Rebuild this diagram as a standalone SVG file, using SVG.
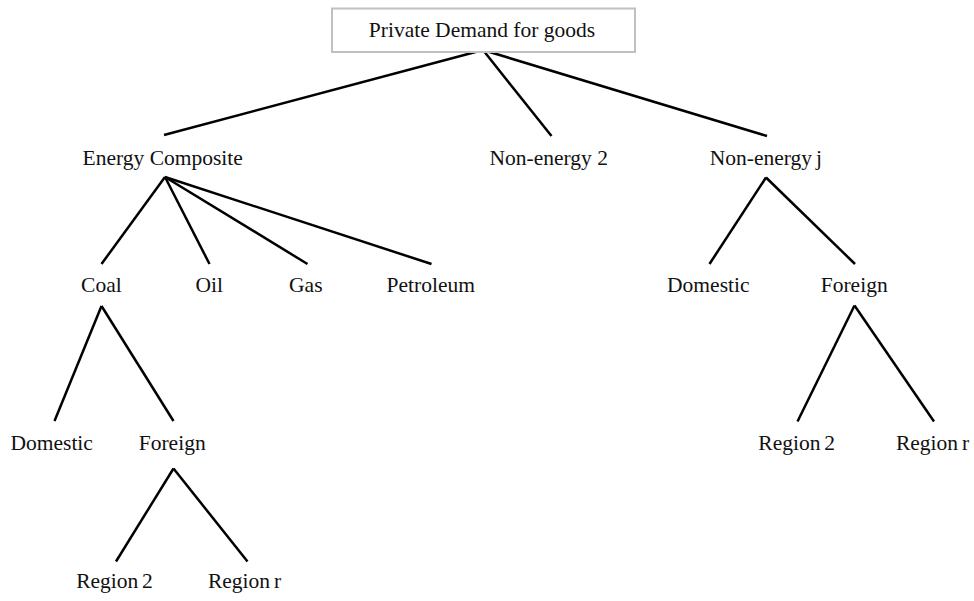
<svg xmlns="http://www.w3.org/2000/svg" width="974" height="601" viewBox="0 0 974 601">
<style>
text{font-family:"Liberation Serif","Times New Roman",serif;font-size:21.5px;fill:#111;text-anchor:middle}
.reg{word-spacing:-1.5px}
#connectors line{stroke:#000;stroke-width:2.5;stroke-linecap:butt}
</style>
<rect width="974" height="601" fill="#fff"/>
<g id="connectors">
<line x1="483" y1="50" x2="164" y2="135"/>
<line x1="483" y1="50" x2="551.5" y2="136"/>
<line x1="483" y1="50" x2="767" y2="136"/>
<line x1="165" y1="177" x2="101.5" y2="264"/>
<line x1="165" y1="177" x2="209.5" y2="264"/>
<line x1="165" y1="177" x2="307.5" y2="264"/>
<line x1="165" y1="177" x2="431.5" y2="264"/>
<line x1="766" y1="177.5" x2="709.5" y2="264"/>
<line x1="766" y1="177.5" x2="855" y2="264"/>
<line x1="101.5" y1="306" x2="54.5" y2="421"/>
<line x1="101.5" y1="306" x2="173.5" y2="421"/>
<line x1="173.5" y1="468.5" x2="116" y2="561.5"/>
<line x1="173.5" y1="468.5" x2="247.5" y2="561.5"/>
<line x1="854.5" y1="305.5" x2="797.5" y2="421.5"/>
<line x1="854.5" y1="305.5" x2="934" y2="421.5"/>
</g>
<g id="root"><rect x="332" y="8.5" width="303" height="43.5" fill="#fff" stroke="#c0c0c0" stroke-width="2"/><text x="482" y="37">Private Demand for goods</text></g>
<g id="energy"><text x="162.7" y="165">Energy Composite</text></g>
<g id="nonenergy2"><text x="548.8" y="164.5">Non-energy 2</text></g>
<g id="nonenergyj"><text x="765.8" y="165" class="reg">Non-energy j</text></g>
<g id="coal"><text x="101.4" y="292">Coal</text></g>
<g id="oil"><text x="209.3" y="292">Oil</text></g>
<g id="gas"><text x="305.8" y="292">Gas</text></g>
<g id="petroleum"><text x="430.8" y="292">Petroleum</text></g>
<g id="domestic_j"><text x="708.3" y="292">Domestic</text></g>
<g id="foreign_j"><text x="854.2" y="292">Foreign</text></g>
<g id="domestic_coal"><text x="51.7" y="450">Domestic</text></g>
<g id="foreign_coal"><text x="172.2" y="450">Foreign</text></g>
<g id="region2_coal"><text x="114.5" y="588" class="reg">Region 2</text></g>
<g id="regionr_coal"><text x="244.5" y="588" class="reg">Region r</text></g>
<g id="region2_j"><text x="796.7" y="450" class="reg">Region 2</text></g>
<g id="regionr_j"><text x="932.5" y="450" class="reg">Region r</text></g>
</svg>
